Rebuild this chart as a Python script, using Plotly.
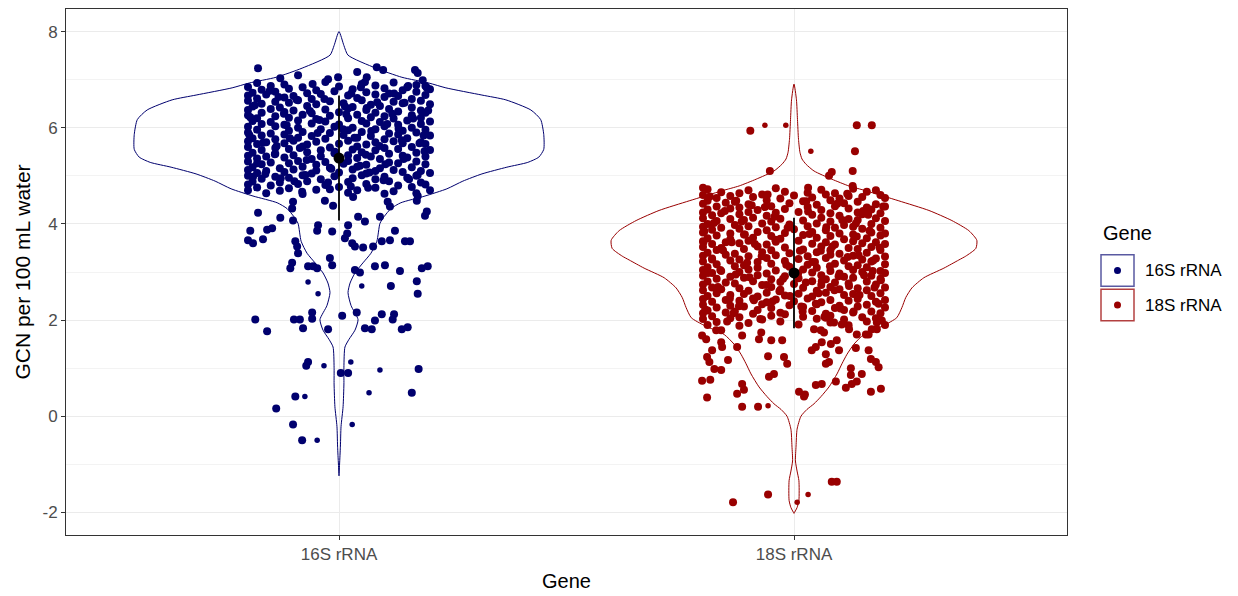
import plotly.graph_objects as go

# ---------------------------------------------------------------- data
genes = ["16S rRNA", "18S rRNA"]
gene_colors = ["#00006e", "#990000"]

# summary: mean and standard deviation per gene
mean_val = [5.37, 2.98]
sd_val = [1.30, 1.15]

# y-axis ticks
y_ticks = [-2, 0, 2, 4, 6, 8]
y_minor = [-1, 1, 3, 5, 7]

# violin outlines: value grid and relative density (1 = widest violin)
grid16 = [8.0, 7.71, 7.51, 7.24, 7.05, 6.93, 6.83, 6.68, 6.58, 6.37, 6.17, 5.86, 5.55, 5.39,
          5.28, 5.18, 5.04, 4.89, 4.73, 4.58, 4.44, 4.32, 4.15, 4.01, 3.64, 3.39, 3.19, 2.98,
          2.77, 2.57, 2.30, 2.01, 1.79, 1.60, 1.44, 1.02, 0.67, 0.20, -0.21, -0.62, -1.24]
dens16 = [0, .024, .044, .18, .307, .439, .522, .698, .815, .937, .985, 1.0, 1.0, .976,
          .922, .82, .698, .605, .527, .42, .302, .254, .22, .2, .185, .156, .117, .078,
          .054, .044, .059, .093, .078, .049, .029, .024, .024, .02, .01, .007, 0]
grid18 = [6.91, 6.58, 6.17, 5.76, 5.49, 5.35, 5.24, 5.10, 4.93, 4.79, 4.69, 4.48, 4.28, 4.07,
          3.86, 3.66, 3.49, 3.33, 3.25, 3.08, 2.88, 2.67, 2.47, 2.26, 2.05, 1.89, 1.70, 1.50,
          1.29, 1.09, 0.88, 0.61, 0.41, 0.26, 0.14, 0.0, -0.27, -0.62, -0.93, -1.14, -1.34,
          -1.75, -1.90, -2.02]
dens18 = [0, .012, .017, .022, .029, .039, .059, .098, .185, .268, .351, .512, .659, .771,
          .854, .893, .888, .839, .805, .732, .634, .576, .546, .527, .502, .439, .341, .293,
          .259, .234, .21, .171, .132, .098, .063, .034, .015, .010, .007, .015, .024, .024,
          .015, 0]

# 16S rRNA observations: horizontal jitter offset and value
jit16 = [
    -0.18, -0.12, -0.03, 0.05, 0.12, 0.17,
    -0.2, -0.15, -0.08, 0.0, 0.08, 0.15, 0.19,
    -0.17, -0.11, -0.05, 0.03, 0.1, 0.14, 0.2,
    -0.19, -0.14, -0.07, -0.01, 0.06, 0.11, 0.17,
    -0.2, -0.16, -0.1, -0.04, 0.02, 0.08, 0.13, 0.19,
    -0.18, -0.12, -0.06, 0.04, 0.1, 0.16,
    -0.2, -0.14, -0.09, -0.02, 0.05, 0.12, 0.18,
    -0.17, -0.11, -0.05, 0.01, 0.07, 0.14, 0.2,
    -0.19, -0.13, -0.07, 0.03, 0.09, 0.16,
    -0.2, -0.15, -0.1, -0.03, 0.02, 0.06, 0.11, 0.18,
    -0.17, -0.12, -0.06, 0.0, 0.08, 0.13, 0.19,
    -0.2, -0.14, -0.08, -0.02, 0.04, 0.1, 0.16,
    -0.18, -0.11, -0.05, 0.02, 0.07, 0.12, 0.18,
    -0.19, -0.15, -0.09, -0.03, 0.05, 0.09, 0.15, 0.2,
    -0.17, -0.12, -0.06, 0.0, 0.06, 0.13, 0.18,
    -0.2, -0.14, -0.09, -0.01, 0.03, 0.1, 0.16,
    -0.18, -0.11, -0.04, 0.02, 0.08, 0.14, 0.19,
    -0.2, -0.15, -0.08, -0.02, 0.05, 0.11, 0.17,
    -0.17, -0.12, -0.06, 0.01, 0.07, 0.13, 0.2,
    -0.19, -0.14, -0.09, -0.03, 0.04, 0.1, 0.15,
    -0.2, -0.16, -0.1, -0.05, 0.02, 0.08, 0.12, 0.18,
    -0.18, -0.12, -0.07, 0.0, 0.06, 0.14, 0.19,
    -0.2, -0.14, -0.08, -0.02, 0.04, 0.1, 0.16,
    -0.17, -0.11, -0.04, 0.03, 0.08, 0.13, 0.2,
    -0.19, -0.14, -0.07, -0.01, 0.05, 0.11, 0.17,
    -0.2, -0.16, -0.1, -0.04, 0.02, 0.07, 0.14, 0.19,
    -0.18, -0.12, -0.06, 0.04, 0.09, 0.15,
    -0.2, -0.15, -0.09, -0.03, 0.02, 0.11, 0.17,
    -0.17, -0.11, -0.05, 0.01, 0.06, 0.13, 0.19,
    -0.19, -0.13, -0.08, -0.02, 0.04, 0.09, 0.16,
    -0.2, -0.16, -0.1, -0.05, 0.03, 0.08, 0.12, 0.18,
    -0.18, -0.12, -0.06, 0.0, 0.06, 0.14, 0.2,
    -0.2, -0.14, -0.08, -0.01, 0.05, 0.1, 0.17,
    -0.17, -0.11, -0.04, 0.03, 0.08, 0.15,
    -0.19, -0.13, -0.07, 0.02, 0.11, 0.18,
    -0.2, -0.15, -0.09, -0.03, 0.06, 0.13, 0.19,
    -0.18, -0.11, 0.0, 0.08, 0.16,
    -0.2, -0.13, -0.05, 0.04, 0.12, 0.2,
    -0.16, -0.08, 0.02, 0.1, 0.17,
    -0.178, -0.129, -0.09, -0.024, -0.002, 0.04, 0.061, 0.057, 0.083, 0.097, 0.167, 0.173, 0.184, 0.193,
    -0.178, -0.129, -0.103, -0.101, -0.081, -0.031, -0.013, 0.031, 0.064, 0.107, 0.112, 0.173, 0.171, 0.193,
    -0.101, -0.195, -0.2, -0.189, -0.158, -0.147, -0.167, -0.096, -0.092, -0.09,
    -0.046, -0.048, -0.015, 0.02, 0.018, 0.013, 0.029, 0.035, 0.053, 0.042, 0.057,
    0.09, 0.123, 0.094, 0.112, 0.145, 0.156, 0.075, 0.189,
    -0.02, -0.015, -0.103, -0.107, -0.068, -0.057, -0.048, 0.035, 0.046, 0.079, 0.101,
    0.134, 0.182, 0.195, 0.114, 0.171, 0.173,
    -0.184, -0.099, -0.086, -0.059, -0.059, 0.007, 0.039, 0.094, 0.079, 0.121, 0.118,
    -0.158, -0.079, -0.024, 0.057, 0.072, 0.138, 0.151,
    -0.068, -0.072, 0.004, 0.02, 0.175, -0.096, 0.16, -0.138, -0.101, -0.081,
]
val16 = [
    6.93, 6.9, 6.95, 6.91, 6.94, 6.89,
    6.85, 6.87, 6.84, 6.86, 6.88, 6.84, 6.87,
    6.79, 6.81, 6.78, 6.8, 6.82, 6.78, 6.8,
    6.73, 6.75, 6.72, 6.76, 6.74, 6.71, 6.75,
    6.67, 6.69, 6.66, 6.7, 6.67, 6.69, 6.66, 6.68,
    6.61, 6.63, 6.6, 6.62, 6.64, 6.6,
    6.56, 6.54, 6.57, 6.55, 6.57, 6.54, 6.56,
    6.5, 6.52, 6.49, 6.51, 6.48, 6.51, 6.49,
    6.44, 6.42, 6.45, 6.43, 6.45, 6.42,
    6.37, 6.39, 6.36, 6.38, 6.4, 6.37, 6.39, 6.36,
    6.31, 6.33, 6.3, 6.32, 6.31, 6.34, 6.31,
    6.26, 6.24, 6.27, 6.25, 6.27, 6.24, 6.26,
    6.2, 6.21, 6.18, 6.2, 6.22, 6.19, 6.21,
    6.14, 6.12, 6.15, 6.13, 6.14, 6.12, 6.15, 6.13,
    6.08, 6.06, 6.09, 6.07, 6.09, 6.06, 6.08,
    6.02, 6.03, 6.0, 6.02, 6.0, 6.03, 6.0,
    5.96, 5.94, 5.97, 5.95, 5.97, 5.94, 5.96,
    5.9, 5.88, 5.91, 5.89, 5.91, 5.88, 5.9,
    5.84, 5.86, 5.83, 5.85, 5.83, 5.86, 5.84,
    5.78, 5.76, 5.79, 5.77, 5.79, 5.76, 5.78,
    5.72, 5.7, 5.73, 5.71, 5.73, 5.7, 5.72, 5.7,
    5.66, 5.68, 5.65, 5.67, 5.65, 5.68, 5.66,
    5.6, 5.58, 5.61, 5.59, 5.61, 5.58, 5.6,
    5.54, 5.56, 5.53, 5.55, 5.53, 5.56, 5.54,
    5.48, 5.46, 5.49, 5.47, 5.49, 5.46, 5.48,
    5.42, 5.4, 5.43, 5.41, 5.43, 5.4, 5.42, 5.4,
    5.36, 5.38, 5.35, 5.37, 5.35, 5.38,
    5.3, 5.28, 5.31, 5.29, 5.31, 5.28, 5.3,
    5.24, 5.26, 5.23, 5.25, 5.23, 5.26, 5.24,
    5.18, 5.16, 5.19, 5.17, 5.19, 5.16, 5.18,
    5.12, 5.1, 5.13, 5.11, 5.13, 5.1, 5.12, 5.1,
    5.06, 5.08, 5.05, 5.07, 5.05, 5.08, 5.06,
    5.0, 4.98, 5.01, 4.99, 5.01, 4.98, 5.0,
    4.94, 4.96, 4.93, 4.95, 4.93, 4.96,
    4.88, 4.86, 4.89, 4.87, 4.89, 4.86,
    4.82, 4.8, 4.83, 4.81, 4.83, 4.8, 4.82,
    4.76, 4.74, 4.77, 4.75, 4.77,
    4.7, 4.69, 4.71, 4.7, 4.68, 4.7,
    4.64, 4.62, 4.65, 4.63, 4.64,
    7.24, 7.03, 7.09, 7.01, 7.05, 7.16, 7.05, 6.95, 7.26, 7.2, 7.2, 7.14, 6.99, 6.83,
    4.23, 4.13, 4.32, 4.46, 4.67, 4.48, 4.38, 4.56, 4.75, 4.46, 4.36, 4.58, 4.48, 4.26,
    4.07, 3.86, 3.66, 3.60, 3.88, 3.91, 3.68, 3.64, 3.53, 3.39,
    3.97, 3.86, 3.84, 3.97, 3.80, 3.70, 3.60, 3.53, 3.51, 4.15, 4.05,
    4.15, 3.86, 3.64, 3.66, 3.64, 3.64, 3.53, 4.17,
    3.29, 3.14, 3.19, 3.08, 3.12, 3.12, 3.08, 3.04, 2.99, 3.12, 3.14,
    3.02, 3.08, 3.12, 2.71, 2.81, 2.55,
    2.01, 2.01, 2.01, 2.16, 2.03, 2.09, 2.16, 2.12, 1.99, 2.12, 2.01,
    1.77, 1.83, 1.81, 1.83, 1.81, 1.81, 1.85,
    1.13, 1.05, 0.90, 0.90, 0.98, 0.41, 0.49, 0.16, -0.17, -0.50,
]
# further 16S observations inside the main cluster
jit16_b = [
    -0.185, -0.093, 0.027, 0.117, 0.152, -0.043, 0.071, -0.137, 0.188, -0.071,
    0.046, -0.162, 0.098, -0.024, 0.138, -0.115, 0.013, 0.163, -0.197, -0.058,
    0.084, -0.128, 0.059, 0.173, -0.086, 0.106, -0.152, 0.034, -0.017, 0.142,
    -0.108, 0.196, -0.18, -0.064, 0.121, 0.009, -0.032, 0.067, -0.141, 0.154,
    0.026, -0.098, 0.089, -0.195, 0.048, -0.121, 0.177, -0.009, 0.131, -0.074,
    0.102, -0.167, 0.016, -0.047, 0.061, -0.133, 0.186, -0.02, 0.144, -0.189,
]
val16_b = [
    6.47, 6.58, 6.71, 6.29, 6.87, 6.16, 5.93, 5.62, 5.51, 5.33,
    5.21, 5.04, 4.91, 4.86, 5.74, 6.05, 6.44, 6.19, 5.85, 6.91,
    6.53, 4.95, 5.44, 5.02, 5.58, 6.08, 6.77, 5.79, 5.15, 5.35,
    5.78, 6.36, 5.26, 6.35, 6.71, 5.97, 6.6, 5.07, 5.45, 4.93,
    4.78, 4.89, 5.62, 6.22, 6.84, 6.29, 5.68, 5.5, 5.98, 5.02,
    5.24, 5.69, 6.28, 5.89, 6.41, 6.64, 5.84, 4.72, 6.52, 4.98,
]
# smaller markers in the 16S group
jit16_small = [-0.068, 0.05, -0.046, -0.033, 0.026, 0.09, 0.066, 0.029, -0.048, -0.075]
val16_small = [2.79, 2.71, 2.55, 1.05, 1.13, 0.96, 0.49, -0.17, -0.50, 0.41]

# 18S rRNA observations
jit18 = [
    -0.19, -0.1, -0.04, 0.06, 0.13, 0.18,
    -0.16, -0.12, -0.02, 0.03, 0.09, 0.16,
    -0.2, -0.14, -0.07, 0.0, 0.07, 0.12, 0.19,
    -0.17, -0.09, -0.03, 0.04, 0.1, 0.15, 0.2,
    -0.19, -0.13, -0.06, 0.02, 0.08, 0.14,
    -0.2, -0.15, -0.1, -0.01, 0.05, 0.11, 0.18,
    -0.17, -0.12, -0.05, 0.03, 0.09, 0.16, 0.2,
    -0.19, -0.14, -0.08, -0.02, 0.06, 0.12, 0.17,
    -0.2, -0.16, -0.1, -0.04, 0.01, 0.08, 0.14, 0.19,
    -0.18, -0.12, -0.06, 0.04, 0.1, 0.15,
    -0.2, -0.14, -0.09, -0.03, 0.06, 0.12, 0.18,
    -0.17, -0.11, -0.05, 0.02, 0.08, 0.14, 0.2,
    -0.19, -0.13, -0.07, -0.01, 0.05, 0.11, 0.17,
    -0.2, -0.16, -0.1, -0.04, 0.03, 0.09, 0.13, 0.19,
    -0.18, -0.12, -0.06, 0.0, 0.07, 0.15,
    -0.2, -0.14, -0.08, -0.02, 0.04, 0.1, 0.17, 0.2,
    -0.17, -0.11, -0.05, 0.02, 0.08, 0.13, 0.19,
    -0.19, -0.14, -0.09, -0.03, 0.05, 0.11, 0.16,
    -0.2, -0.15, -0.1, -0.04, 0.01, 0.07, 0.13, 0.18,
    -0.18, -0.12, -0.06, 0.04, 0.09, 0.15, 0.2,
    -0.2, -0.16, -0.08, -0.02, 0.06, 0.12, 0.17,
    -0.17, -0.11, -0.05, 0.02, 0.08, 0.14, 0.19,
    -0.19, -0.13, -0.07, -0.01, 0.05, 0.1, 0.16,
    -0.2, -0.15, -0.1, -0.04, 0.03, 0.08, 0.13, 0.2,
    -0.18, -0.12, -0.06, 0.01, 0.07, 0.15, 0.18,
    -0.2, -0.14, -0.08, -0.02, 0.04, 0.11, 0.17,
    -0.17, -0.11, -0.05, 0.03, 0.09, 0.14, 0.2,
    -0.19, -0.13, -0.08, -0.01, 0.05, 0.12, 0.16,
    -0.2, -0.16, -0.1, -0.04, 0.02, 0.08, 0.13, 0.19,
    -0.18, -0.12, -0.06, 0.04, 0.1, 0.15, 0.2,
    -0.2, -0.14, -0.08, -0.02, 0.06, 0.11, 0.17,
    -0.17, -0.11, -0.05, 0.01, 0.07, 0.13, 0.19,
    -0.19, -0.15, -0.09, -0.03, 0.04, 0.09, 0.16,
    -0.2, -0.13, -0.07, 0.0, 0.06, 0.12, 0.18,
    -0.18, -0.12, -0.05, 0.02, 0.08, 0.14, 0.2,
    -0.2, -0.16, -0.1, -0.03, 0.05, 0.1, 0.16,
    -0.17, -0.11, -0.06, 0.01, 0.07, 0.13, 0.19,
    -0.19, -0.14, -0.08, -0.02, 0.04, 0.11, 0.17,
    -0.2, -0.15, -0.09, -0.04, 0.03, 0.08, 0.14, 0.2,
    -0.18, -0.12, -0.06, 0.0, 0.06, 0.12, 0.18,
    -0.2, -0.14, -0.07, -0.01, 0.05, 0.1, 0.16,
    -0.17, -0.11, -0.05, 0.02, 0.09, 0.14, 0.2,
    -0.19, -0.13, -0.08, 0.04, 0.11, 0.17,
    -0.2, -0.15, -0.09, -0.03, 0.07, 0.13, 0.19,
    -0.18, -0.12, -0.05, 0.02, 0.08, 0.15,
    -0.2, -0.14, -0.07, 0.05, 0.11, 0.18,
    -0.17, -0.1, -0.03, 0.08, 0.16,
    -0.19, -0.12, 0.01, 0.12, 0.2,
    -0.096, 0.138, 0.171, 0.134, -0.053, 0.083, 0.077, 0.129, -0.2, 0.129, 0.031,
    -0.202, -0.184, -0.114, -0.11, -0.125, -0.055, -0.044, -0.057, -0.022, -0.015,
    -0.145, -0.191, -0.186, -0.175, -0.16, -0.18, -0.125, -0.158, -0.16,
    -0.202, -0.193, -0.171, -0.16, -0.114, -0.072, -0.077, -0.05, -0.026,
    0.011, 0.024, 0.048, 0.061, 0.092, 0.114, 0.127, 0.138, 0.125, 0.125, 0.149,
    0.169, 0.191, 0.18, 0.186, 0.164, 0.169, 0.136, 0.099, 0.07, 0.07, 0.077,
    0.048, 0.039, 0.061, 0.081, 0.044, 0.059, 0.066, 0.094,
    0.164, 0.171, 0.182, 0.182, 0.193, 0.105, 0.121, 0.138, 0.158, 0.088, 0.07,
    -0.191, -0.114, -0.079, 0.022, 0.083, 0.094, -0.134, -0.057,
]
val18 = [
    4.72, 4.7, 4.74, 4.71, 4.73, 4.7,
    4.66, 4.64, 4.67, 4.65, 4.64, 4.67,
    4.6, 4.58, 4.61, 4.59, 4.61, 4.58, 4.6,
    4.54, 4.56, 4.53, 4.55, 4.53, 4.56, 4.54,
    4.48, 4.46, 4.49, 4.47, 4.49, 4.46,
    4.42, 4.44, 4.41, 4.43, 4.4, 4.43, 4.41,
    4.36, 4.34, 4.37, 4.35, 4.37, 4.34, 4.36,
    4.3, 4.32, 4.29, 4.31, 4.29, 4.32, 4.3,
    4.24, 4.22, 4.25, 4.23, 4.25, 4.22, 4.24, 4.22,
    4.18, 4.2, 4.17, 4.19, 4.17, 4.2,
    4.12, 4.1, 4.13, 4.11, 4.13, 4.1, 4.12,
    4.06, 4.08, 4.05, 4.07, 4.05, 4.08, 4.06,
    4.0, 3.98, 4.01, 3.99, 4.01, 3.98, 4.0,
    3.94, 3.92, 3.95, 3.93, 3.95, 3.92, 3.94, 3.92,
    3.88, 3.9, 3.87, 3.89, 3.87, 3.9,
    3.82, 3.8, 3.83, 3.81, 3.83, 3.8, 3.82, 3.8,
    3.76, 3.78, 3.75, 3.77, 3.75, 3.78, 3.76,
    3.7, 3.68, 3.71, 3.69, 3.71, 3.68, 3.7,
    3.64, 3.62, 3.65, 3.63, 3.65, 3.62, 3.64, 3.62,
    3.58, 3.6, 3.57, 3.59, 3.57, 3.6, 3.58,
    3.52, 3.5, 3.53, 3.51, 3.53, 3.5, 3.52,
    3.46, 3.48, 3.45, 3.47, 3.45, 3.48, 3.46,
    3.4, 3.38, 3.41, 3.39, 3.41, 3.38, 3.4,
    3.34, 3.36, 3.33, 3.35, 3.33, 3.36, 3.34, 3.32,
    3.28, 3.26, 3.29, 3.27, 3.29, 3.26, 3.28,
    3.22, 3.24, 3.21, 3.23, 3.21, 3.24, 3.22,
    3.16, 3.14, 3.17, 3.15, 3.17, 3.14, 3.16,
    3.1, 3.12, 3.09, 3.11, 3.09, 3.12, 3.1,
    3.04, 3.02, 3.05, 3.03, 3.05, 3.02, 3.04, 3.02,
    2.98, 3.0, 2.97, 2.99, 2.97, 3.0, 2.98,
    2.92, 2.9, 2.93, 2.91, 2.93, 2.9, 2.92,
    2.86, 2.88, 2.85, 2.87, 2.85, 2.88, 2.86,
    2.8, 2.78, 2.81, 2.79, 2.81, 2.78, 2.8,
    2.74, 2.76, 2.73, 2.75, 2.73, 2.76, 2.74,
    2.68, 2.66, 2.69, 2.67, 2.69, 2.66, 2.68,
    2.62, 2.64, 2.61, 2.63, 2.61, 2.64, 2.62,
    2.56, 2.54, 2.57, 2.55, 2.57, 2.54, 2.56,
    2.5, 2.52, 2.49, 2.51, 2.49, 2.52, 2.5,
    2.44, 2.42, 2.45, 2.43, 2.45, 2.42, 2.44, 2.42,
    2.38, 2.4, 2.37, 2.39, 2.37, 2.4, 2.38,
    2.32, 2.3, 2.33, 2.31, 2.33, 2.3, 2.32,
    2.26, 2.28, 2.25, 2.27, 2.25, 2.28, 2.26,
    2.2, 2.18, 2.21, 2.19, 2.21, 2.18,
    2.14, 2.16, 2.13, 2.15, 2.13, 2.16, 2.14,
    2.08, 2.06, 2.09, 2.07, 2.09, 2.06,
    2.02, 2.04, 2.01, 2.03, 2.01, 2.04,
    1.96, 1.94, 1.97, 1.95, 1.97,
    1.9, 1.88, 1.91, 1.89, 1.9,
    5.94, 6.05, 6.05, 5.51, 5.10, 5.08, 5.0, 5.10, 4.75, 4.79, 4.75,
    0.74, 0.76, 0.67, 0.55, 0.47, 0.82, 0.88, 1.25, 1.23, 1.09,
    1.17, 1.23, 1.13, 0.98, 0.96, 1.37, 1.44, 1.44, 1.54,
    1.68, 1.60, 1.79, 1.79, 1.68, 1.74, 1.60, 1.58, 1.58,
    0.51, 0.45, 0.65, 0.67, 0.72, 0.59, 0.67, 0.72, 0.86, 1.0, 0.88,
    0.51, 0.57, 1.13, 1.02, 1.37, 1.19, 1.42, 1.37, 1.29, 1.09, 1.13,
    1.44, 1.37, 1.54, 1.50, 1.81, 1.79, 1.74, 1.58,
    1.70, 1.81, 1.81, 1.95, 1.99, 1.91, 1.81, 1.70, 1.70, 1.95, 2.05,
    0.39, 0.20, 0.20, 0.41, -1.36, -1.36, -1.79, -1.63,
]
# further 18S observations inside the main cluster
jit18_b = [
    -0.185, -0.093, 0.027, 0.117, 0.152, -0.043, 0.071, -0.137, 0.188, -0.071,
    0.046, -0.162, 0.098, -0.024, 0.138, -0.115, 0.013, 0.163, -0.197, -0.058,
    0.084, -0.128, 0.059, 0.173, -0.086, 0.106, -0.152, 0.034, -0.017, 0.142,
    -0.108, 0.196, -0.18, -0.064, 0.121, 0.009, -0.032, 0.067, -0.141, 0.154,
    0.026, -0.098, 0.089, -0.195, 0.048, -0.121, 0.177, -0.009, 0.131, -0.074,
    0.102, -0.167, 0.016, -0.047, 0.061, -0.133, 0.186, -0.02, 0.144, -0.189,
    -0.176, -0.041, 0.079, 0.166, -0.103, 0.118, -0.156, 0.031, 0.191, -0.061,
    0.095, -0.127, 0.054, -0.199, 0.136, -0.014, 0.174, -0.088, 0.019, -0.147,
]
val18_b = [
    4.57, 4.39, 4.47, 4.63, 4.27, 4.15, 3.93, 3.62, 3.51, 3.33,
    3.21, 3.04, 2.91, 2.86, 3.74, 4.05, 3.44, 4.19, 3.85, 4.61,
    3.53, 2.95, 3.44, 3.02, 3.58, 4.08, 4.27, 3.79, 3.15, 3.35,
    3.78, 4.36, 3.26, 4.35, 2.71, 2.97, 2.6, 2.07, 2.45, 2.93,
    2.78, 2.89, 2.62, 2.22, 2.34, 2.29, 2.68, 2.5, 2.18, 2.02,
    2.24, 2.69, 2.28, 2.39, 2.81, 2.14, 2.34, 2.12, 2.52, 2.98,
    4.02, 3.67, 3.12, 3.86, 3.19, 3.31, 3.45, 4.26, 2.83, 2.73,
    4.42, 4.48, 2.56, 3.62, 4.01, 3.92, 3.24, 2.41, 2.18, 1.97,
]
# smaller markers in the 18S group
jit18_small = [-0.064, -0.018, 0.037, -0.057, 0.031, 0.007]
val18_small = [6.05, 6.05, 5.51, 0.22, -1.63, -1.79]

# ---------------------------------------------------------------- styling
FONT = "Liberation Sans, Arial, sans-serif"
HALF_WIDTH = 0.45        # widest violin half-width, in category units
PT_SIZE = 8
PT_SMALL = 5.5

fig = go.Figure()


def violin_outline(pos, grid, dens, color):
    xs = [pos + HALF_WIDTH * d for d in dens] + [pos - HALF_WIDTH * d for d in dens[::-1]]
    ys = list(grid) + list(grid[::-1])
    fig.add_trace(go.Scatter(x=xs, y=ys, mode="lines",
                             line=dict(color=color, width=1, shape="spline", smoothing=0.6),
                             hoverinfo="skip", showlegend=False))


violin_outline(0, grid16, dens16, gene_colors[0])
violin_outline(1, grid18, dens18, gene_colors[1])

groups = [(0, jit16 + jit16_b, val16 + val16_b, jit16_small, val16_small),
          (1, jit18 + jit18_b, val18 + val18_b, jit18_small, val18_small)]
for pos, jit, val, jit_s, val_s in groups:
    col = gene_colors[pos]
    fig.add_trace(go.Scatter(x=[pos + j for j in jit], y=val, mode="markers",
                             marker=dict(color=col, size=PT_SIZE, line=dict(width=0)),
                             showlegend=False, name=genes[pos]))
    fig.add_trace(go.Scatter(x=[pos + j for j in jit_s], y=val_s, mode="markers",
                             marker=dict(color=col, size=PT_SMALL, line=dict(width=0)),
                             showlegend=False, name=genes[pos]))

# mean +/- sd summary
for pos in range(len(genes)):
    m, s = mean_val[pos], sd_val[pos]
    fig.add_trace(go.Scatter(x=[pos, pos], y=[m - s, m + s], mode="lines",
                             line=dict(color="black", width=1.8), showlegend=False,
                             hoverinfo="skip"))
fig.add_trace(go.Scatter(x=list(range(len(genes))), y=mean_val, mode="markers",
                         marker=dict(color="black", size=11), showlegend=False))

# ---------------------------------------------------------------- legend (drawn by hand)
L, T, PW, PH = 66, 8, 1001, 533


def px(xp):
    return (xp - L) / PW


def py(yp):
    return (T + PH - yp) / PH


shapes = []
annotations = [dict(x=px(1101), y=py(235), xref="paper", yref="paper", text="Gene",
                    showarrow=False, xanchor="left", yanchor="middle",
                    font=dict(family=FONT, size=20, color="black"))]
key_border = ["rgba(0,0,110,0.65)", "rgba(153,0,0,0.75)"]
for i, g in enumerate(genes):
    top = 257 + 35 * i
    shapes.append(dict(type="rect", xref="paper", yref="paper",
                       x0=px(1101), x1=px(1134), y0=py(top), y1=py(top + 32),
                       line=dict(color=key_border[i], width=1.5), fillcolor="white"))
    cy = top + 16
    shapes.append(dict(type="circle", xref="paper", yref="paper",
                       xsizemode="pixel", ysizemode="pixel",
                       xanchor=px(1117.5), yanchor=py(cy),
                       x0=-3.5, x1=3.5, y0=-3.5, y1=3.5,
                       fillcolor=gene_colors[i], line=dict(width=0)))
    annotations.append(dict(x=px(1143), y=py(cy), xref="paper", yref="paper", text=g,
                            showarrow=False, xanchor="left", yanchor="middle",
                            font=dict(family=FONT, size=17, color="black")))

fig.update_layout(
    width=1238, height=596,
    margin=dict(l=L, r=1238 - L - PW, t=T, b=596 - T - PH),
    paper_bgcolor="white", plot_bgcolor="white",
    font=dict(family=FONT, color="black"),
    showlegend=False,
    shapes=shapes, annotations=annotations,
    xaxis=dict(range=[-0.6, 1.6], tickmode="array", tickvals=[0, 1], ticktext=genes,
               showgrid=True, gridcolor="#ebebeb", gridwidth=1, zeroline=False,
               showline=True, mirror=True, linecolor="#333333", linewidth=1,
               ticks="outside", ticklen=4, tickcolor="#333333",
               tickfont=dict(family=FONT, size=17, color="#4d4d4d"),
               title=dict(text="Gene", font=dict(family=FONT, size=20, color="black"),
                          standoff=10)),
    yaxis=dict(range=[-2.47, 8.47], tickmode="array", tickvals=y_ticks,
               ticktext=[str(v) for v in y_ticks],
               showgrid=True, gridcolor="#ebebeb", gridwidth=1, zeroline=False,
               minor=dict(tickmode="array", tickvals=y_minor, showgrid=True,
                          gridcolor="#f3f3f3", gridwidth=1, ticks=""),
               showline=True, mirror=True, linecolor="#333333", linewidth=1,
               ticks="outside", ticklen=4, tickcolor="#333333",
               tickfont=dict(family=FONT, size=17, color="#4d4d4d"),
               title=dict(text="GCN per 100 mL water",
                          font=dict(family=FONT, size=21, color="black"), standoff=6)),
)

fig.write_html("out.html")
